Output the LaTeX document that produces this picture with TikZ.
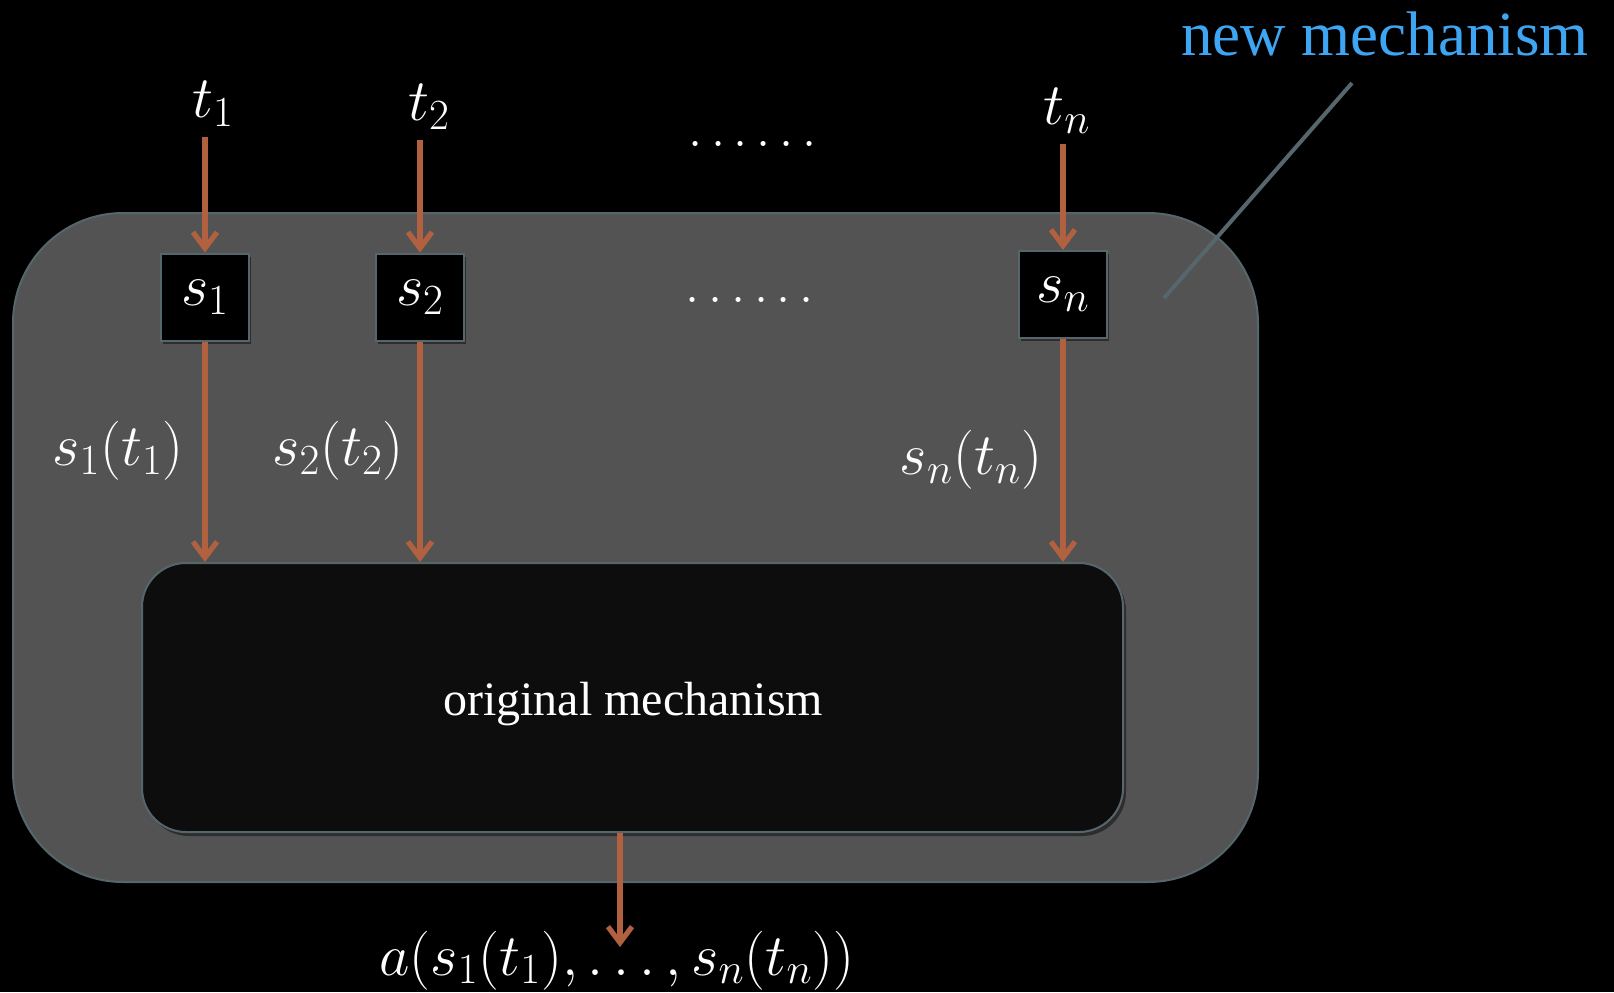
\RequirePackage{fix-cm}
\documentclass[tikz,border=0pt]{standalone}
\usepackage[no-math]{fontspec}
\setmainfont{Liberation Serif}
\usetikzlibrary{arrows.meta,shadows}
\definecolor{outerfill}{HTML}{535353}
\definecolor{edgec}{HTML}{56666D}
\definecolor{innerfill}{HTML}{0D0D0D}
\definecolor{arrowc}{HTML}{B1613F}
\definecolor{bluec}{HTML}{3DA5F2}
\DeclareMathSizes{29.5}{29.5}{21.5}{15}
\tikzset{
  mathlbl/.style={text=white, font=\fontsize{29.5}{34}\selectfont, inner sep=0pt},
  sbox/.style={draw=edgec, line width=1pt, fill=black, minimum width=44pt, minimum height=43.5pt, inner sep=0pt, text=white, font=\fontsize{29.5}{34}\selectfont,
    drop shadow={shadow xshift=1pt, shadow yshift=-1.5pt, opacity=0.45, fill=black}},
  arr/.style={draw=arrowc, line width=2.6pt, -{Straight Barb[length=8pt,width=12pt]}},
}
\begin{document}
\begin{tikzpicture}[x=0.5pt,y=-0.5pt]
\useasboundingbox[fill=black] (0,0) rectangle (1614,992);
% outer mechanism
\draw[draw=edgec, line width=1pt, fill=outerfill, rounded corners=55pt] (13,213) rectangle (1258,882);
% inner mechanism
\node[draw=edgec, line width=1pt, fill=innerfill, rounded corners=22pt, minimum width=490.5pt, minimum height=134.5pt, inner sep=0pt,
  drop shadow={shadow xshift=1.5pt, shadow yshift=-2pt, opacity=0.45, fill=black}] (inner) at (632.5,697.5) {};
\node[text=white, font=\fontsize{24}{28}\selectfont] (orig) at (633,704) {original mechanism};
% strategy boxes
\node[sbox] (s1) at (205,297) {$s_1$};
\node[sbox] (s2) at (420,297) {$s_2$};
\node[sbox] (sn) at (1063,294.5) {$s_n$};
% type labels
\node[mathlbl, anchor=south, inner sep=5pt] (t1) at (213,137) {$t_1$};
\node[mathlbl, anchor=south, inner sep=5pt] (t2) at (429,140) {$t_2$};
\node[mathlbl, anchor=south, inner sep=5pt] (tn) at (1067,144) {$t_n$};
% dots
\node[text=white, font=\fontsize{26}{30}\selectfont, inner sep=0pt] (dtop) at (752.5,144) {$\mathinner{\ldotp\ldotp\ldotp\ldotp\ldotp\ldotp}$};
\node[text=white, font=\fontsize{26}{30}\selectfont, inner sep=0pt] (dmid) at (750,300) {$\mathinner{\ldotp\ldotp\ldotp\ldotp\ldotp\ldotp}$};
% arrows in
\draw[arr] (s1.north |- t1.south) -- (s1.north);
\draw[arr] (s2.north |- t2.south) -- (s2.north);
\draw[arr] (sn.north |- tn.south) -- (sn.north);
% arrows down
\draw[arr] (s1.south) -- (s1.south |- inner.north);
\draw[arr] (s2.south) -- (s2.south |- inner.north);
\draw[arr] (sn.south) -- (sn.south |- inner.north);
% arrow labels
\node[mathlbl] (l1) at (118,451) {$s_1(t_1)$};
\node[mathlbl] (l2) at (338,451) {$s_2(t_2)$};
\node[mathlbl] (ln) at (971,460) {$s_n(t_n)$};
% output
\node[mathlbl, anchor=base] (out) at (617,975) {$a(s_1(t_1),\ldots,s_n(t_n))$};
\coordinate (outend) at (620,947);
\draw[arr] (inner.south -| outend) -- (outend);
% new mechanism label
\node[text=bluec, font=\fontsize{31.5}{36}\selectfont] (newm) at (1385,34) {new mechanism};
\coordinate (ptrstart) at (1352,83);
\coordinate (ptrend) at (1164,298);
\draw[draw=edgec, line width=2pt] (ptrstart) -- (ptrend);
\end{tikzpicture}
\end{document}
